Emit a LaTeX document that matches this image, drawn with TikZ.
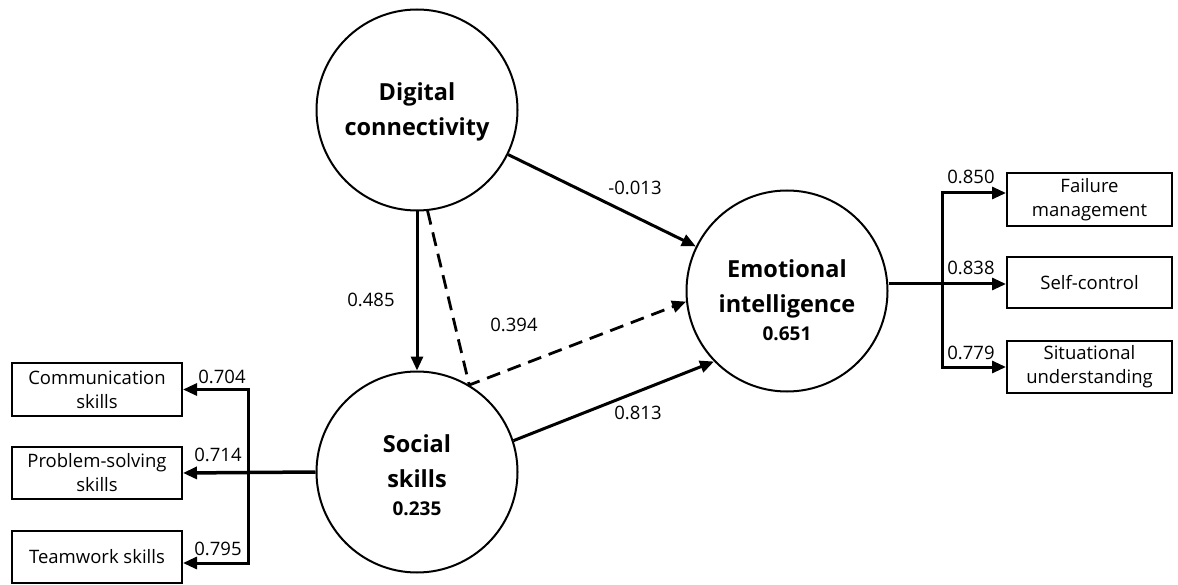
\documentclass[tikz,border=0pt]{standalone}
\usepackage{fontspec}
\setmainfont{Open Sans}
\usetikzlibrary{arrows.meta,calc}
\begin{document}
\begin{tikzpicture}[x=1pt,y=-1pt,
  latent/.style={circle,draw,line width=2pt,minimum size=201pt,inner sep=0pt,align=center,font=\fontsize{23.5}{35}\selectfont\bfseries},
  ltext/.style={inner sep=0pt,align=center,font=\fontsize{23.5}{35}\selectfont\bfseries},
  ind/.style={draw,line width=2pt,inner sep=0pt,align=center,font=\fontsize{18.5}{24}\selectfont},
  arr/.style={line width=3pt,-{Triangle[length=14pt,width=12pt]}},
  dsh/.style={line width=2.8pt,dash pattern=on 14pt off 8pt,-{Triangle[length=14pt,width=12pt]}},
  lbl/.style={font=\fontsize{18.5}{20}\selectfont,inner sep=0pt}
]
\useasboundingbox[fill=white] (0,0) rectangle (1178,585);
% latent variables
\node[latent] (dc) at (417,110) {};
\node[ltext] (dct) at (417,112) {Digital\\connectivity};
\node[latent] (ss) at (417,472) {};
\node[ltext] (sst) at (417,475) {Social\\skills\\[-7pt]{\fontsize{19}{22}\selectfont 0.235}};
\node[latent] (ei) at (787,291) {};
\node[ltext] (eit) at (787,300) {Emotional\\intelligence\\[-7pt]{\fontsize{19}{22}\selectfont 0.651}};
% indicators right
\node[ind,minimum width=165pt,minimum height=53pt] (fm) at (1089.5,199.5) {Failure\\management};
\node[ind,minimum width=165pt,minimum height=51pt] (sc) at (1089.5,282.5) {Self-control};
\node[ind,minimum width=165pt,minimum height=52pt] (su) at (1089.5,367) {Situational\\understanding};
% indicators left
\node[ind,minimum width=170pt,minimum height=53pt] (cs) at (97,389.5) {Communication\\skills};
\node[ind,minimum width=170pt,minimum height=52pt] (ps) at (97,473) {Problem-solving\\skills};
\node[ind,minimum width=170pt,minimum height=52pt] (tw) at (97,557) {Teamwork skills};
% structural paths
\draw[arr] (dc) -- (ei);
\draw[arr] (dc) -- (ss);
\draw[arr] (ss.18) -- (ei.224);
\draw[dsh] (dc.276) -- (ss.59) -- (ei.186);
% measurement left
\coordinate (lb) at (248,473);
\draw[arr,line width=3.5pt] (ss.west) -- (ps.east);
\draw[arr] (lb) |- (cs.east);
\draw[arr] (lb) |- ($(tw.east)+(0,6)$);
% measurement right
\coordinate (rb) at (942,284);
\draw[arr] (ei.east|-rb) -- (sc.west|-rb);
\draw[arr] (rb) |- ($(fm.west)+(0,-6.5)$);
\draw[arr] (rb) |- (su.west);
% labels
\node[lbl] (l1) at (635,188) {-0.013};
\node[lbl] (l2) at (371,300) {0.485};
\node[lbl] (l3) at (514,325) {0.394};
\node[lbl] (l4) at (638,413) {0.813};
\node[lbl] (l5) at (222,377) {0.704};
\node[lbl] (l6) at (218,455) {0.714};
\node[lbl] (l7) at (218,549) {0.795};
\node[lbl] (l8) at (971,177) {0.850};
\node[lbl] (l9) at (971,268) {0.838};
\node[lbl] (l10) at (971,353) {0.779};
\end{tikzpicture}
\end{document}
